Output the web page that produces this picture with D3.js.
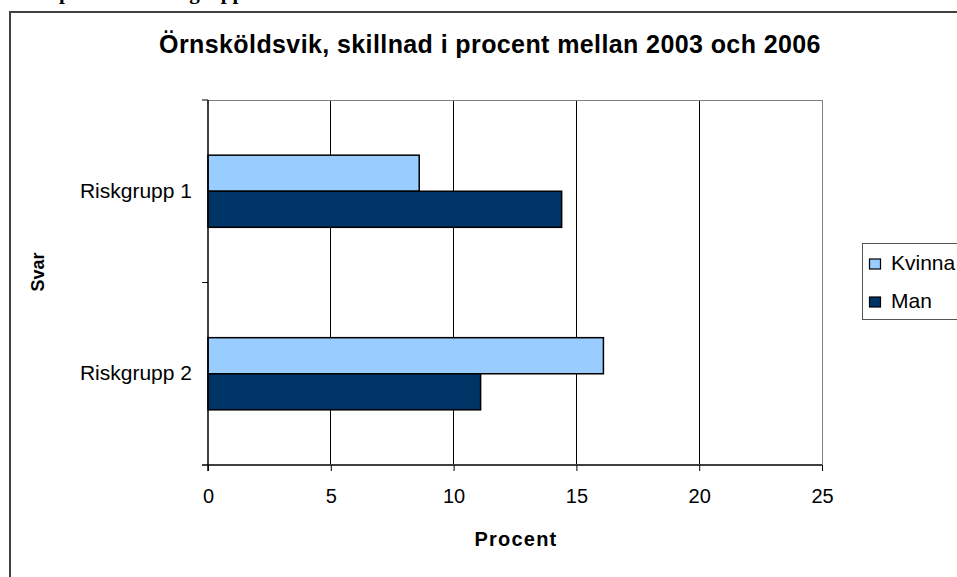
<!DOCTYPE html>
<html>
<head>
<meta charset="utf-8">
<script src="https://cdn.jsdelivr.net/npm/d3@7"></script>
<style>
  body { margin: 0; background: #fff; }
  svg { display: block; font-family: "Liberation Sans", Arial, sans-serif; }
</style>
</head>
<body>
<div id="chart"></div>
<script>
// data
var categories = ["Riskgrupp 1", "Riskgrupp 2"];
var seriesNames = ["Kvinna", "Man"];
var kvinna = [8.6, 16.1];
var man = [14.4, 11.1];
var xTicks = [0, 5, 10, 15, 20, 25];
var colors = ["#99ccff", "#003366"];

var width = 957, height = 577;
var svg = d3.select("#chart").append("svg")
    .attr("width", width)
    .attr("height", height);

// cut-off heading from the page above the chart
svg.append("text")
    .attr("x", 0)
    .attr("y", -1)
    .style("font-family", "'Liberation Serif', 'Times New Roman', serif")
    .style("font-weight", "bold")
    .style("font-size", "21px")
    .text("Andel personer i riskgrupper");

// outer chart frame
svg.append("rect")
    .attr("x", 10).attr("y", 12)
    .attr("width", 1000).attr("height", 700)
    .attr("fill", "#fff")
    .attr("stroke", "#404040")
    .attr("stroke-width", 2);

var plot = { left: 208, right: 822, top: 100, bottom: 465 };

var x = d3.scaleLinear().domain([0, 25]).range([plot.left, plot.right]);
var y = d3.scaleBand().domain(categories).range([plot.top, plot.bottom]);
var ySub = d3.scaleBand().domain(seriesNames).range([0, y.bandwidth()]).paddingOuter(1.53);

// gridlines
svg.append("g").selectAll("line")
    .data(xTicks.slice(1, -1))
  .enter().append("line")
    .attr("x1", function(d) { return x(d); })
    .attr("x2", function(d) { return x(d); })
    .attr("y1", plot.top).attr("y2", plot.bottom)
    .attr("stroke", "#000").attr("stroke-width", 1)
    .attr("shape-rendering", "crispEdges");

// plot area top/right border
svg.append("path")
    .attr("d", "M" + plot.left + "," + plot.top + "H" + plot.right + "V" + plot.bottom)
    .attr("fill", "none")
    .attr("stroke", "#808080")
    .attr("stroke-width", 1)
    .attr("shape-rendering", "crispEdges");

// bars
var rows = categories.map(function(c, i) {
  return [{ cat: c, s: "Kvinna", v: kvinna[i] }, { cat: c, s: "Man", v: man[i] }];
});
var groups = svg.append("g").selectAll("g")
    .data(rows)
  .enter().append("g")
    .attr("transform", function(d) { return "translate(0," + y(d[0].cat) + ")"; });
groups.selectAll("rect")
    .data(function(d) { return d; })
  .enter().append("rect")
    .attr("x", x(0))
    .attr("y", function(d) { return ySub(d.s); })
    .attr("width", function(d) { return x(d.v) - x(0); })
    .attr("height", ySub.bandwidth())
    .attr("fill", function(d) { return colors[seriesNames.indexOf(d.s)]; })
    .attr("stroke", "#000")
    .attr("stroke-width", 1.5);

// x axis
var xAxis = svg.append("g")
    .attr("transform", "translate(0," + plot.bottom + ")")
    .call(d3.axisBottom(x).tickValues(xTicks).tickSize(6).tickPadding(18));
xAxis.select(".domain").attr("stroke", "#404040").attr("stroke-width", 2)
    .attr("d", "M" + (plot.left - 6) + ",0H" + plot.right);
xAxis.selectAll(".tick line").attr("stroke", "#000");
xAxis.selectAll("text").style("font-size", "20px").attr("fill", "#000");

// y axis, ticks at the band edges
var yAxis = svg.append("g")
    .attr("transform", "translate(" + plot.left + ",0)")
    .call(d3.axisLeft(y).tickSize(0).tickPadding(16));
yAxis.select(".domain").attr("stroke", "#000").attr("stroke-width", 1.5)
    .attr("d", "M0," + plot.top + "V" + (plot.bottom + 6));
yAxis.selectAll("text").style("font-size", "21px").attr("fill", "#000");
yAxis.selectAll(".edge")
    .data([plot.top, (plot.top + plot.bottom) / 2])
  .enter().append("line")
    .attr("class", "edge")
    .attr("x1", -6).attr("x2", 0)
    .attr("y1", function(d) { return d; }).attr("y2", function(d) { return d; })
    .attr("stroke", "#000");

// titles
svg.append("text")
    .attr("x", 490).attr("y", 53)
    .attr("text-anchor", "middle")
    .style("font-weight", "bold")
    .style("font-size", "25px")
    .style("letter-spacing", "0.4px")
    .text("Örnsköldsvik, skillnad i procent mellan 2003 och 2006");

svg.append("text")
    .attr("x", 516).attr("y", 546)
    .attr("text-anchor", "middle")
    .style("font-weight", "bold")
    .style("font-size", "20px")
    .style("letter-spacing", "1.2px")
    .text("Procent");

svg.append("text")
    .attr("transform", "translate(44,272) rotate(-90)")
    .attr("text-anchor", "middle")
    .style("font-weight", "bold")
    .style("font-size", "18px")
    .text("Svar");

// legend
var legend = svg.append("g").attr("transform", "translate(862,243)");
legend.append("rect")
    .attr("x", 0.5).attr("y", 0.5)
    .attr("width", 200).attr("height", 76)
    .attr("fill", "#fff").attr("stroke", "#555");
var li = legend.selectAll(".item")
    .data(seriesNames)
  .enter().append("g")
    .attr("class", "item")
    .attr("transform", function(d, i) { return "translate(0," + (i * 38) + ")"; });
li.append("rect")
    .attr("x", 7.5).attr("y", 16)
    .attr("width", 11).attr("height", 10)
    .attr("fill", function(d, i) { return colors[i]; })
    .attr("stroke", "#000").attr("stroke-width", 1.2);
li.append("text")
    .attr("x", 29).attr("y", 27)
    .style("font-size", "21px")
    .text(function(d) { return d; });
</script>
</body>
</html>
